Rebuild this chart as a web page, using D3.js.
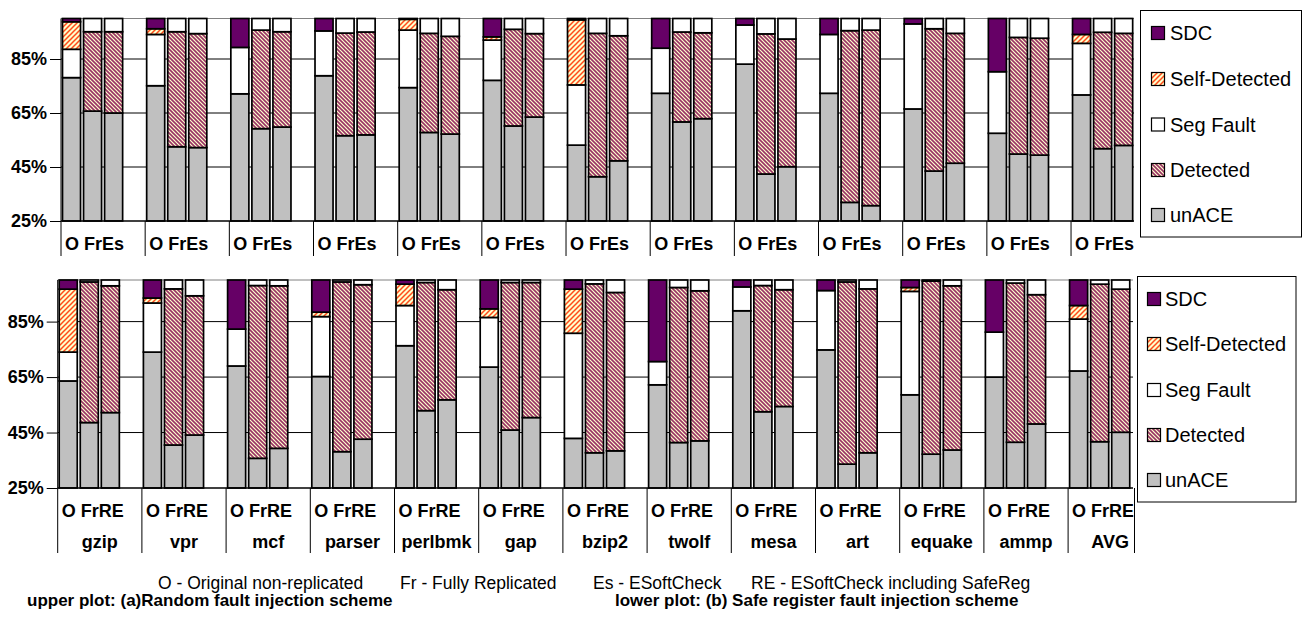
<!DOCTYPE html>
<html><head><meta charset="utf-8">
<script src="https://cdn.jsdelivr.net/npm/d3@7"></script>
<style>body{margin:0;background:#fff}svg{display:block;font-family:Arial,"Liberation Sans",sans-serif}</style>
</head><body><svg id="c" width="1302" height="623"></svg>
<script>
// ---------------- data ----------------
const benchmarks = ["gzip","vpr","mcf","parser","perlbmk","gap","bzip2","twolf","mesa","art","equake","ammp","AVG"];
const configsA = ["O","Fr","Es"];
const configsB = ["O","Fr","RE"];
const yTicks = [25,45,65,85];
const seriesNames = ["SDC","Self-Detected","Seg Fault","Detected","unACE"];

// upper plot (a) – values in %, order per benchmark: O, Fr, Es
const unACE_a    = [78.1,65.7,65.0, 75.1,52.5,52.2, 72.1,59.2,59.8, 78.8,56.6,56.9, 74.4,57.8,57.2, 77.1,60.2,63.5, 53.1,41.4,47.3, 72.3,61.7,62.9, 83.1,42.4,45.1, 72.3,31.9,30.7, 66.5,43.5,46.4, 57.5,49.8,49.4, 71.7,51.8,53.0];
const detected_a = [0,29.4,30.1, 0,42.6,42.2, 0,36.5,35.3, 0,38.0,38.1, 0,36.7,36.2, 0,35.8,30.9, 0,53.1,46.3, 0,33.3,31.8, 0,51.9,47.3, 0,63.6,65.0, 0,52.7,48.1, 0,43.2,43.3, 0,43.1,41.5];
const segFault_a = [10.5,4.9,4.9, 19.0,4.9,5.6, 17.2,4.3,4.9, 16.6,5.4,5.0, 21.3,5.5,6.6, 14.9,4.0,5.6, 22.3,5.5,6.4, 16.7,5.0,5.3, 14.5,5.7,7.6, 21.8,4.5,4.3, 31.5,3.8,5.5, 22.8,7.0,7.3, 19.1,5.1,5.5];
const selfDet_a  = [10.2,0,0, 2.1,0,0, 0,0,0, 0,0,0, 4.0,0,0, 1.2,0,0, 24.1,0,0, 0,0,0, 0,0,0, 0,0,0, 0,0,0, 0,0,0, 3.3,0,0];
const sdc_a      = [1.2,0,0, 3.8,0,0, 10.7,0,0, 4.6,0,0, 0.3,0,0, 6.8,0,0, 0.5,0,0, 11.0,0,0, 2.4,0,0, 5.9,0,0, 2.0,0,0, 19.7,0,0, 5.9,0,0];

// lower plot (b) – order per benchmark: O, Fr, RE
const unACE_b    = [63.6,48.6,52.2, 74.0,40.5,44.1, 69.0,35.7,39.3, 65.2,38.1,42.6, 76.3,52.9,56.8, 68.6,45.9,50.4, 42.9,37.7,38.4, 62.2,41.4,42.0, 88.9,52.5,54.4, 74.8,33.6,37.7, 58.6,37.2,38.7, 65.0,41.5,48.1, 67.2,41.7,45.1];
const detected_b = [0,50.7,45.7, 0,56.3,50.2, 0,62.3,58.6, 0,61.2,55.7, 0,46.2,39.7, 0,53.2,48.7, 0,60.9,57.1, 0,55.9,54.1, 0,45.5,42.1, 0,65.7,59.1, 0,62.4,59.2, 0,57.4,46.6, 0,56.8,51.6];
const segFault_b = [10.4,0.7,2.1, 17.7,3.2,5.7, 13.3,2.0,2.1, 21.6,0.7,1.7, 14.5,0.9,3.5, 17.9,0.9,0.9, 37.9,1.4,4.5, 8.4,2.7,3.9, 8.6,2.0,3.5, 21.4,0.7,3.2, 37.3,0.4,2.1, 16.2,1.1,5.3, 18.7,1.5,3.3];
const selfDet_b  = [22.7,0,0, 1.8,0,0, 0,0,0, 1.6,0,0, 7.7,0,0, 3.1,0,0, 15.9,0,0, 0,0,0, 0,0,0, 0,0,0, 1.4,0,0, 0,0,0, 4.9,0,0];
const sdc_b      = [3.3,0,0, 6.5,0,0, 17.7,0,0, 11.6,0,0, 1.5,0,0, 10.4,0,0, 3.3,0,0, 29.4,0,0, 2.5,0,0, 3.8,0,0, 2.7,0,0, 18.8,0,0, 9.2,0,0];

// ---------------- drawing ----------------
const svg = d3.select("#c");
const defs = svg.append("defs");
const fills = {"SDC":"#660066","Self-Detected":"url(#pSelf)","Seg Fault":"#ffffff","Detected":"url(#pDet)","unACE":"#c0c0c0"};

const pd = defs.append("pattern").attr("id","pDet").attr("patternUnits","userSpaceOnUse").attr("width",4).attr("height",4);
pd.append("rect").attr("width",4).attr("height",4).attr("fill","#ffffcc");
pd.append("path").attr("d","M-1,-1 L5,5 M-1,3 L1,5 M3,-1 L5,1").attr("stroke","#993366").attr("stroke-width",1.6);
const ps = defs.append("pattern").attr("id","pSelf").attr("patternUnits","userSpaceOnUse").attr("width",5).attr("height",5);
ps.append("rect").attr("width",5).attr("height",5).attr("fill","#ffffcc");
ps.append("path").attr("d","M-1,6 L6,-1 M-1,1 L1,-1 M4,6 L6,4").attr("stroke","#ff4a1a").attr("stroke-width",1.5);

const keys = ["unACE","Detected","Seg Fault","Self-Detected","SDC"];

function rowsFrom(cfgs, u, d, s, sd, c) {
  return u.map((v,i)=>({bench:benchmarks[Math.floor(i/3)], cfg:i%3, cfgName:cfgs[i%3],
    "unACE":v, "Detected":d[i], "Seg Fault":s[i], "Self-Detected":sd[i], "SDC":c[i]}));
}

const panels = [
  {id:"a", rows:rowsFrom(configsA,unACE_a,detected_a,segFault_a,selfDet_a,sdc_a), cfgLabel:"O FrEs",
   x0:61, step:84.17, right:1134, yTop:18.5, yBot:221, bandBottom:256, labelY:243.5, nameY:null, rightSep:false,
   legend:{x:1140.5,y:10.5,w:161,h:226.5, sw:1151, tx:1170, rows:[33,79,124.5,170,215]}},
  {id:"b", rows:rowsFrom(configsB,unACE_b,detected_b,segFault_b,selfDet_b,sdc_b), cfgLabel:"O FrRE",
   x0:57.7, step:84.2, right:1133, yTop:280, yBot:488, bandBottom:553, labelY:511, nameY:542, rightSep:true,
   legend:{x:1137.5,y:276.5,w:158.5,h:225.5, sw:1147, tx:1165, rows:[299,344,390,435,480]}}
];

panels.forEach(P => {
  const g = svg.append("g");
  const x = d3.scaleBand().domain(benchmarks).range([P.x0, P.x0 + benchmarks.length*P.step]).padding(0);
  const sub = d3.scaleBand().domain([0,1,2,3]).range([0, P.step]).padding(0);
  const y = d3.scaleLinear().domain([25,100]).range([P.yBot, P.yTop]);

  defs.append("clipPath").attr("id","clip"+P.id).append("rect")
    .attr("x",P.x0-20).attr("y",0).attr("width",P.right-P.x0+20.5).attr("height",623);

  const plot = g.append("g").attr("clip-path",`url(#clip${P.id})`);
  plot.append("line").attr("x1",P.x0).attr("x2",P.right).attr("y1",y(100)).attr("y2",y(100))
    .attr("stroke","#808080").attr("stroke-width",1);
  plot.selectAll(".grid").data(yTicks.filter(t=>t>25)).join("line")
    .attr("x1",P.x0).attr("x2",P.right).attr("y1",d=>y(d)).attr("y2",d=>y(d))
    .attr("stroke","#000").attr("stroke-width",1);

  const stacked = d3.stack().keys(keys)(P.rows);
  stacked.forEach(layer => {
    plot.append("g").selectAll("rect").data(layer.filter(d=>d[1]-d[0]>0.05)).join("rect")
      .attr("x", d => x(d.data.bench) + sub(d.data.cfg) + 1.5)
      .attr("width", sub.bandwidth() - 3)
      .attr("y", d => y(d[1]))
      .attr("height", d => y(Math.max(d[0],25)) - y(d[1]))
      .attr("fill", fills[layer.key])
      .attr("stroke","#000").attr("stroke-width",1.7);
  });

  plot.append("line").attr("x1",P.x0).attr("x2",P.right).attr("y1",y(25)).attr("y2",y(25))
    .attr("stroke","#000").attr("stroke-width",1.5);
  const ax = g.append("g").attr("transform",`translate(${P.x0},0)`)
    .call(d3.axisLeft(y).tickValues(yTicks).tickFormat(d=>d+"%").tickSize(11).tickPadding(3));
  ax.select(".domain").attr("stroke","#000").attr("d",`M0,${P.yTop}V${P.yBot}`);
  ax.selectAll(".tick line").attr("stroke","#000");
  ax.selectAll(".tick text").attr("font-size",18).attr("font-weight","bold")
    .attr("font-family","Arial, 'Liberation Sans', sans-serif").attr("fill","#000");

  const seps = benchmarks.map(b=>x(b));
  if (P.rightSep) seps.push(P.right + 1.5);
  g.selectAll(".sep").data(seps).join("line")
    .attr("x1",d=>d).attr("x2",d=>d).attr("y1",P.yBot).attr("y2",P.bandBottom)
    .attr("stroke","#000").attr("stroke-width",1);

  const lab = g.append("g").attr("clip-path",`url(#clip${P.id})`);
  lab.selectAll(".cfg").data(benchmarks).join("text")
    .attr("x",b=>x(b)+4).attr("y",P.labelY).attr("dy","0.35em")
    .attr("font-size",18).attr("font-weight","bold").text(P.cfgLabel);
  if (P.nameY) {
    lab.selectAll(".nm").data(benchmarks).join("text")
      .attr("x",b=>x(b)+P.step/2).attr("y",P.nameY).attr("dy","0.35em").attr("text-anchor","middle")
      .attr("font-size",18).attr("font-weight","bold").text(b=>b);
  }

  const L = P.legend;
  const lg = g.append("g");
  lg.append("rect").attr("x",L.x).attr("y",L.y).attr("width",L.w).attr("height",L.h)
    .attr("fill","#fff").attr("stroke","#000").attr("stroke-width",1);
  seriesNames.forEach((s,i)=>{
    lg.append("rect").attr("x",L.sw+0.5).attr("y",L.rows[i]-6.5).attr("width",13).attr("height",13)
      .attr("fill",fills[s]).attr("stroke","#000").attr("stroke-width",1.2);
    lg.append("text").attr("x",L.tx).attr("y",L.rows[i]).attr("dy","0.35em")
      .attr("font-size",20).text(s);
  });
});

// footnotes
const notes1 = [
  {t:"O - Original non-replicated", x:158},
  {t:"Fr - Fully Replicated", x:400},
  {t:"Es - ESoftCheck", x:593},
  {t:"RE - ESoftCheck including SafeReg", x:751}
];
svg.selectAll(".n1").data(notes1).join("text")
  .attr("x",d=>d.x).attr("y",589).attr("font-size",17.5).text(d=>d.t);
const notes2 = [
  {t:"upper plot: (a)Random fault injection scheme", x:27},
  {t:"lower plot: (b) Safe register fault injection scheme", x:615}
];
svg.selectAll(".n2").data(notes2).join("text")
  .attr("x",d=>d.x).attr("y",606).attr("font-size",17).attr("font-weight","bold").text(d=>d.t);
</script>
</body></html>
